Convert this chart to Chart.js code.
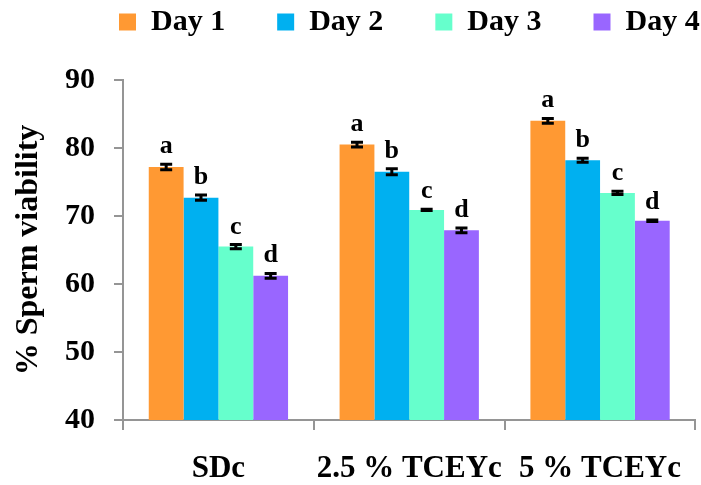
<!DOCTYPE html>
<html><head><meta charset="utf-8">
<script src="https://cdn.jsdelivr.net/npm/chart.js@4/dist/chart.umd.min.js"></script>
<style>html,body{margin:0;padding:0;background:#fff}#wrap{width:701px;height:485px}</style>
</head><body><div id="wrap"><canvas id="c" width="701" height="485"></canvas></div>
<script>
const categories = ['SDc', '2.5 % TCEYc', '5 % TCEYc'];
const seriesNames = ['Day 1', 'Day 2', 'Day 3', 'Day 4'];
const day1 = [77.2, 80.5, 84.0];
const day2 = [72.7, 76.5, 78.2];
const day3 = [65.5, 70.9, 73.4];
const day4 = [61.2, 67.9, 69.3];
const err1 = [0.4, 0.35, 0.35];
const err2 = [0.4, 0.45, 0.3];
const err3 = [0.3, 0.1, 0.25];
const err4 = [0.35, 0.35, 0.1];
const letters1 = ['a', 'a', 'a'];
const letters2 = ['b', 'b', 'b'];
const letters3 = ['c', 'c', 'c'];
const letters4 = ['d', 'd', 'd'];
const yMin = 40, yMax = 90, yStep = 10;

const colors = ['#FF9933', '#00B0F0', '#66FFCC', '#9966FF'];
const values = [day1, day2, day3, day4];
const errors = [err1, err2, err3, err4];
const letters = [letters1, letters2, letters3, letters4];
const FONT = "'Liberation Serif', 'Times New Roman', serif";
const AXIS = '#959595';

const LEGEND_PAD = 52;
const legendFix = {
  id: 'legendFix',
  beforeInit(chart) {
    const fit = chart.legend.fit;
    chart.legend.fit = function () { fit.call(this); this.height = 80; };
  },
  afterLayout(chart) {
    const lg = chart.legend;
    lg.left = 119 - LEGEND_PAD;
    lg.right = 1200;
    lg.top = 7 - LEGEND_PAD;
  }
};

const errorBars = {
  id: 'errorBars',
  afterDatasetsDraw(chart) {
    const ctx = chart.ctx;
    const ys = chart.scales.y;
    ctx.save();
    chart.data.datasets.forEach((ds, i) => {
      const meta = chart.getDatasetMeta(i);
      meta.data.forEach((bar, j) => {
        const v = values[i][j], e = errors[i][j];
        const x = bar.x;
        const yt = ys.getPixelForValue(v + e);
        const yb = ys.getPixelForValue(v - e);
        ctx.strokeStyle = '#000';
        ctx.lineWidth = 3;
        ctx.beginPath();
        ctx.moveTo(x, yt); ctx.lineTo(x, yb);
        ctx.moveTo(x - 6, yt); ctx.lineTo(x + 6, yt);
        ctx.moveTo(x - 6, yb); ctx.lineTo(x + 6, yb);
        ctx.stroke();
        ctx.fillStyle = '#000';
        ctx.font = "bold 26px " + FONT;
        ctx.textAlign = 'center';
        ctx.textBaseline = 'alphabetic';
        ctx.fillText(letters[i][j], x, yt - 11);
      });
    });
    ctx.restore();
  }
};

new Chart(document.getElementById('c'), {
  type: 'bar',
  data: {
    labels: categories,
    datasets: seriesNames.map((n, i) => ({
      label: n,
      data: values[i],
      backgroundColor: colors[i],
      borderWidth: 0,
      barPercentage: 1,
      categoryPercentage: 0.73
    }))
  },
  options: {
    responsive: false,
    animation: false,
    devicePixelRatio: 1,
    layout: { padding: { left: 0, right: -2, top: 0, bottom: 0 } },
    plugins: {
      legend: {
        position: 'top',
        align: 'start',
        labels: {
          boxWidth: 17, boxHeight: 17, padding: LEGEND_PAD,
          color: '#000',
          font: { family: FONT, size: 30, weight: 'bold' }
        }
      },
      tooltip: { enabled: false }
    },
    scales: {
      x: {
        afterFit(s) { s.height = 65; },
        grid: { drawOnChartArea: false, drawTicks: true, tickLength: 10, color: AXIS, lineWidth: 2, offset: true },
        border: { display: true, color: AXIS, width: 2 },
        ticks: { color: '#000', padding: 20, font: { family: FONT, size: 31, weight: 'bold' } }
      },
      y: {
        min: yMin, max: yMax,
        afterFit(s) { s.width = 123; },
        grid: { drawOnChartArea: false, drawTicks: true, tickLength: 9, color: AXIS, lineWidth: 2 },
        border: { display: true, color: AXIS, width: 2 },
        ticks: { stepSize: yStep, color: '#000', padding: 19, font: { family: FONT, size: 30, weight: 'bold' } },
        title: {
          display: true, text: '% Sperm viability', color: '#000',
          padding: { top: 10, bottom: 0 },
          font: { family: FONT, size: 32, weight: 'bold' }
        }
      }
    }
  },
  plugins: [legendFix, errorBars]
});
</script>
</body></html>
